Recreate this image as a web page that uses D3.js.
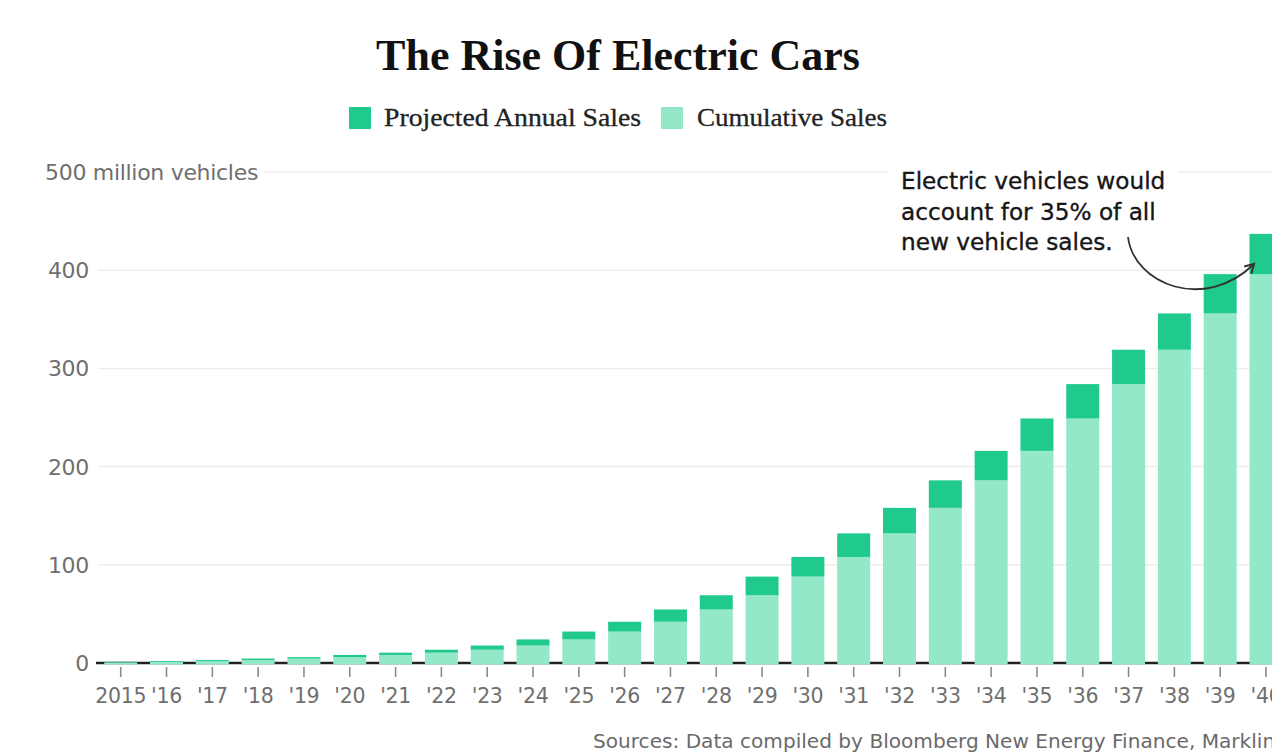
<!DOCTYPE html>
<html>
<head>
<meta charset="utf-8">
<script src="https://cdn.jsdelivr.net/npm/d3@7"></script>
<style>
  html, body { margin: 0; padding: 0; background: #fff; }
  svg { display: block; }
</style>
</head>
<body>
<svg id="chart" width="1272" height="754"></svg>
<script>
// Year labels along the x axis
const years = ["2015", "'16", "'17", "'18", "'19", "'20", "'21", "'22", "'23", "'24",
  "'25", "'26", "'27", "'28", "'29", "'30", "'31", "'32", "'33", "'34",
  "'35", "'36", "'37", "'38", "'39", "'40"];

// Cumulative EV sales at the start of each year (million vehicles)
const cumulativeSales = [0.7, 1.2, 2, 3, 4.5, 6, 8.2, 10.5, 13.5, 17.8,
  24, 32, 42, 54.5, 69, 88, 108, 132, 158, 186,
  216, 249, 284, 319, 356, 396];

// Projected sales within each year (million vehicles)
const annualSales = [0.5, 0.8, 1, 1.5, 1.5, 2.2, 2.3, 3, 4.3, 6.2,
  8, 10, 12.5, 14.5, 19, 20, 24, 26, 28, 30,
  33, 35, 35, 37, 40, 41];

// Y axis ticks
const yTicks = [0, 100, 200, 300, 400, 500];

const seriesKeys = ["cumulative", "annual"];
const seriesNames = { annual: "Projected Annual Sales", cumulative: "Cumulative Sales" };
const colors = { annual: "#20c98c", cumulative: "#93e8c8" };

const rows = years.map((y, i) => ({ year: y, cumulative: cumulativeSales[i], annual: annualSales[i] }));

const svg = d3.select("#chart");

const x = d3.scaleBand()
  .domain(years)
  .range([97.8, 1288.9])
  .paddingInner(0.28)
  .paddingOuter(0.14);

const y = d3.scaleLinear().domain([0, 500]).range([663, 172]);

// Title
svg.append("text")
  .attr("x", 618).attr("y", 70)
  .attr("text-anchor", "middle")
  .attr("font-family", "'Liberation Serif', serif")
  .attr("font-weight", "bold")
  .attr("font-size", 44)
  .attr("fill", "#111")
  .text("The Rise Of Electric Cars");

// Legend
const legendItems = [
  { key: "annual", sx: 349, tx: 384, w: 257 },
  { key: "cumulative", sx: 661, tx: 697, w: 190 }
];
const legend = svg.append("g");
legendItems.forEach(it => {
  legend.append("rect")
    .attr("x", it.sx).attr("y", 107).attr("width", 22).attr("height", 22)
    .attr("fill", colors[it.key]);
  legend.append("text")
    .attr("x", it.tx).attr("y", 126)
    .attr("font-family", "'Liberation Serif', serif")
    .attr("font-size", 25)
    .attr("fill", "#222")
    .attr("stroke", "#222")
    .attr("stroke-width", 0.3)
    .attr("textLength", it.w)
    .attr("lengthAdjust", "spacingAndGlyphs")
    .text(seriesNames[it.key]);
});

// Gridlines
const grid = svg.append("g");
grid.selectAll("line")
  .data(yTicks.filter(d => d > 0))
  .join("line")
  .attr("x1", d => d === 500 ? 265 : 98)
  .attr("x2", 1272)
  .attr("y1", d => y(d)).attr("y2", d => y(d))
  .attr("stroke", "#ededed")
  .attr("stroke-width", 1.5);

// Y tick labels
const yLab = svg.append("g")
  .attr("font-family", "'DejaVu Sans', sans-serif")
  .attr("font-size", 22)
  .attr("fill", "#6f6f6f");
yLab.selectAll("text")
  .data(yTicks)
  .join("text")
  .attr("x", d => d === 500 ? 45 : 89)
  .attr("y", d => y(d))
  .attr("dy", "0.36em")
  .attr("text-anchor", d => d === 500 ? "start" : "end")
  .attr("letter-spacing", -0.3)
  .text(d => d === 500 ? "500 million vehicles" : d);

// Baseline
svg.append("line")
  .attr("x1", 96).attr("x2", 1272)
  .attr("y1", y(0)).attr("y2", y(0))
  .attr("stroke", "#222")
  .attr("stroke-width", 2.5);

// Stacked bars
const stacked = d3.stack().keys(seriesKeys)(rows);
svg.append("g")
  .selectAll("g")
  .data(stacked)
  .join("g")
  .attr("fill", d => colors[d.key])
  .selectAll("rect")
  .data(d => d)
  .join("rect")
  .attr("x", d => x(d.data.year))
  .attr("width", x.bandwidth())
  .attr("y", d => y(d[1]))
  .attr("height", d => y(d[0]) - y(d[1]) + (d[0] === 0 ? 1.5 : 0));

// X axis ticks and labels
const xAxis = d3.axisBottom(x).tickSize(0).tickPadding(0);
const gx = svg.append("g").attr("transform", `translate(0,${y(0)})`).call(xAxis);
gx.select(".domain").remove();
gx.selectAll(".tick").append("line")
  .attr("y1", 4).attr("y2", 14)
  .attr("stroke", "#8a8a8a")
  .attr("stroke-width", 1.6);
gx.selectAll(".tick text")
  .attr("y", 40)
  .attr("dy", 0)
  .attr("font-family", "'DejaVu Sans', sans-serif")
  .attr("font-size", 20.5)
  .attr("letter-spacing", -0.3)
  .attr("fill", "#6f6f6f");

// Annotation
svg.append("rect")
  .attr("x", 888).attr("y", 160).attr("width", 290).attr("height", 96)
  .attr("fill", "#fff");
const note = svg.append("text")
  .attr("font-family", "'DejaVu Sans', sans-serif")
  .attr("font-size", 23.2)
  .attr("fill", "#161616")
  .attr("stroke", "#161616")
  .attr("stroke-width", 0.35);
["Electric vehicles would", "account for 35% of all", "new vehicle sales."].forEach((t, i) => {
  note.append("tspan").attr("x", 901).attr("y", 189 + i * 30.5).text(t);
});

svg.append("defs").append("marker")
  .attr("id", "arrowhead")
  .attr("viewBox", "0 0 10 10")
  .attr("refX", 8).attr("refY", 5)
  .attr("markerWidth", 7).attr("markerHeight", 7)
  .attr("markerUnits", "strokeWidth")
  .attr("orient", "auto")
  .append("path")
  .attr("d", "M1,1 L8,5 L1,9")
  .attr("fill", "none")
  .attr("stroke", "#333")
  .attr("stroke-width", 1.6);

const arrowPath = d3.path();
arrowPath.moveTo(1128, 237);
arrowPath.bezierCurveTo(1134, 285, 1205, 312, 1254, 264);
svg.append("path")
  .attr("d", arrowPath.toString())
  .attr("fill", "none")
  .attr("stroke", "#333")
  .attr("stroke-width", 1.8)
  .attr("marker-end", "url(#arrowhead)");

// Source line
svg.append("text")
  .attr("x", 593).attr("y", 748)
  .attr("font-family", "'DejaVu Sans', sans-serif")
  .attr("font-size", 20.1)
  .attr("fill", "#6a6a6a")
  .text("Sources: Data compiled by Bloomberg New Energy Finance, Marklines");
</script>
</body>
</html>
